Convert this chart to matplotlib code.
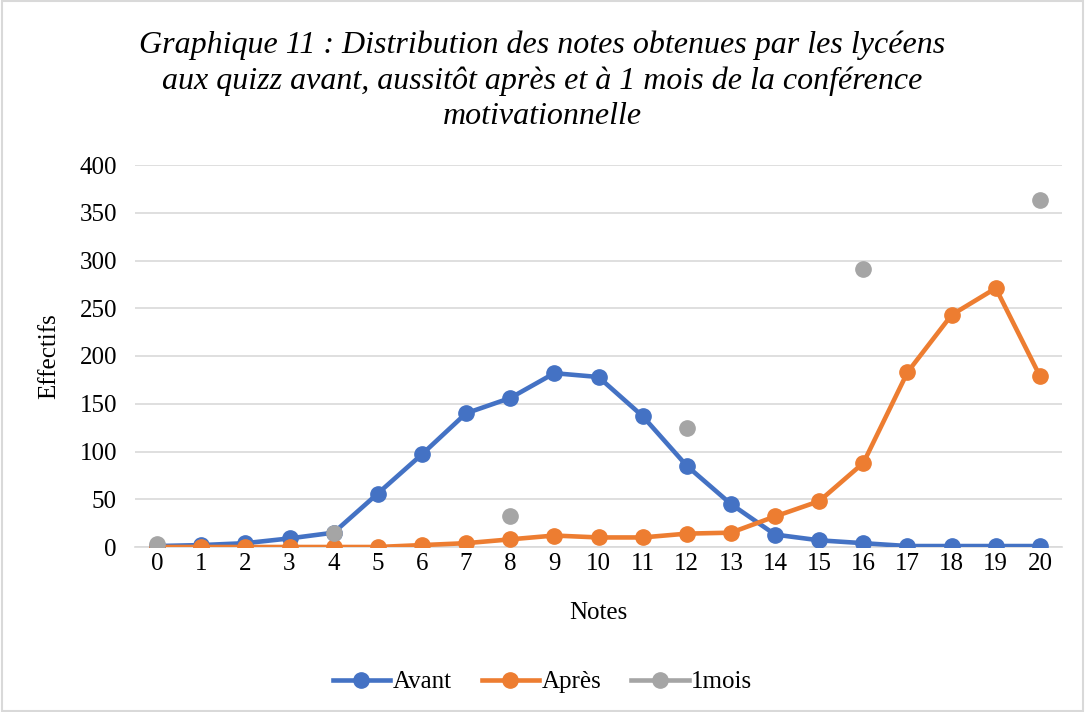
import matplotlib.pyplot as plt
import numpy as np

notes = list(range(21))
avant = [1, 2, 4, 9, 15, 56, 97, 140, 156, 182, 178, 137, 85, 45, 13, 7, 4, 1, 1, 1, 1]
apres = [0, 0, 0, 0, 0, 0, 2, 4, 8, 12, 10, 10, 14, 15, 32, 48, 88, 183, 243, 271, 179]
un_mois = [3, np.nan, np.nan, np.nan, 15, np.nan, np.nan, np.nan, 32, np.nan, np.nan, np.nan,
           125, np.nan, np.nan, np.nan, 291, np.nan, np.nan, np.nan, 363]

plt.rcParams['font.family'] = ['Liberation Serif', 'DejaVu Serif']

fig = plt.figure(figsize=(10.85, 7.12), dpi=100)
ax = fig.add_axes([135 / 1085, 1 - 547 / 712, (1062 - 135) / 1085, (547 - 165) / 712])

# border of the chart area
fig.patches.append(plt.Rectangle((0.002, 0.002), 0.996, 0.996, transform=fig.transFigure,
                                 fill=False, edgecolor='#D9D9D9', linewidth=1.5))

ax.plot(notes, avant, color='#4472C4', marker='o', markersize=11, linewidth=3.3, label='Avant', zorder=3)
ax.plot(notes, apres, color='#ED7D31', marker='o', markersize=11, linewidth=3.3, label='Après', zorder=3)
ax.plot(notes, un_mois, color='#A5A5A5', marker='o', markersize=11, linewidth=3.3, label='1mois', zorder=4)

ax.set_xlim(-0.5, 20.5)
ax.set_ylim(0, 400)
ax.set_yticks(range(0, 401, 50))
ax.set_xticks(notes)
ax.tick_params(axis='both', labelsize=18, length=0)
ax.tick_params(axis='y', pad=13)
ax.tick_params(axis='x', pad=4)
ax.yaxis.grid(True, color='#D9D9D9', linewidth=1.2)
ax.set_axisbelow(True)
for s in ['top', 'right', 'left']:
    ax.spines[s].set_visible(False)
ax.spines['bottom'].set_color('#D9D9D9')
ax.spines['bottom'].set_linewidth(1.2)

ax.set_xlabel('Notes', fontsize=18, labelpad=20)
ax.set_ylabel('Effectifs', fontsize=18, labelpad=14)

fig.text(0.5, 1 - 81 / 712,
         "Graphique 11 : Distribution des notes obtenues par les lycéens\n"
         "aux quizz avant, aussitôt après et à 1 mois de la conférence\n"
         "motivationnelle",
         ha='center', va='center', fontsize=23, style='italic', linespacing=1.28)

fig.legend(loc='center', bbox_to_anchor=(0.5, 1 - 682 / 712), ncol=3, frameon=False,
           fontsize=18, handlelength=2.3, handletextpad=0.1, columnspacing=1.2)

fig.savefig('out.png', dpi=100)
